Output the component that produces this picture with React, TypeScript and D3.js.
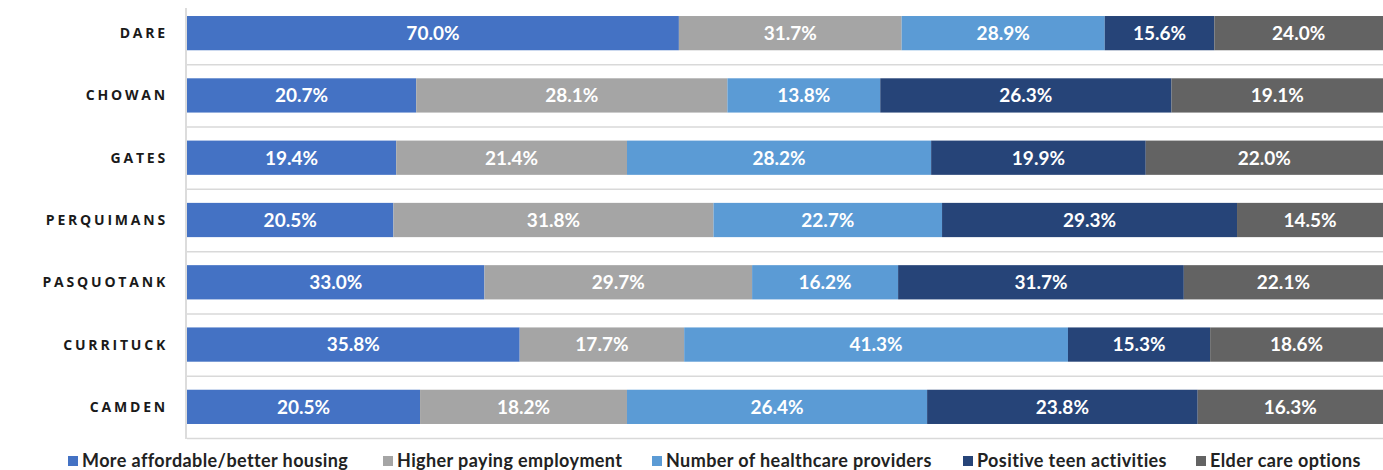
import React, { useEffect, useRef } from "react";
import * as d3 from "d3";

const counties = ["DARE", "CHOWAN", "GATES", "PERQUIMANS", "PASQUOTANK", "CURRITUCK", "CAMDEN"];
const seriesNames = [
  "More affordable/better housing",
  "Higher paying employment",
  "Number of healthcare providers",
  "Positive teen activities",
  "Elder care options",
];
const housing = [70.0, 20.7, 19.4, 20.5, 33.0, 35.8, 20.5];
const employment = [31.7, 28.1, 21.4, 31.8, 29.7, 17.7, 18.2];
const healthcare = [28.9, 13.8, 28.2, 22.7, 16.2, 41.3, 26.4];
const teen = [15.6, 26.3, 19.9, 29.3, 31.7, 15.3, 23.8];
const elder = [24.0, 19.1, 22.0, 14.5, 22.1, 18.6, 16.3];
const colors = ["#4472C4", "#A5A5A5", "#5B9BD5", "#264478", "#636363"];

const legendX = [68, 383, 652, 963, 1196];

const App: React.FC = () => {
  const svgRef = useRef<SVGSVGElement | null>(null);

  useEffect(() => {
    if (!svgRef.current) return;
    const svg = d3.select(svgRef.current);
    svg.selectAll("*").remove();

    const width = 1383;
    const left = 187;
    const top = 2;
    const bottom = 438;

    const allSeries = [housing, employment, healthcare, teen, elder];
    const rows = counties.map((c, i) => {
      const row: any = { county: c };
      seriesNames.forEach((s, j) => (row[s] = allSeries[j][i]));
      return row;
    });

    const stacked = d3.stack<any>()
      .keys(seriesNames)
      .offset(d3.stackOffsetExpand)(rows);

    const x = d3.scaleLinear().domain([0, 1]).range([left, width]);
    const y = d3.scaleBand<string>()
      .domain(counties)
      .range([top, bottom])
      .paddingInner(0.45)
      .paddingOuter(0.225);

    const step = y.step();

    // gridlines between categories
    svg.append("g")
      .selectAll("line")
      .data(d3.range(1, counties.length + 1))
      .enter()
      .append("line")
      .attr("x1", left)
      .attr("x2", width)
      .attr("y1", d => top + d * step + 0.5)
      .attr("y2", d => top + d * step + 0.5)
      .attr("stroke", "#d9d9d9")
      .attr("stroke-width", 1.5);

    // left axis
    svg.append("line")
      .attr("x1", left - 1)
      .attr("x2", left - 1)
      .attr("y1", top + 6)
      .attr("y2", bottom + 1)
      .attr("stroke", "#d0d0d0")
      .attr("stroke-width", 1.5);

    const groups = svg.append("g")
      .selectAll("g")
      .data(stacked)
      .enter()
      .append("g")
      .attr("fill", (d, i) => colors[i]);

    groups.selectAll("rect")
      .data(d => d)
      .enter()
      .append("rect")
      .attr("x", d => x(d[0]))
      .attr("y", d => y(d.data.county)!)
      .attr("width", d => x(d[1]) - x(d[0]))
      .attr("height", y.bandwidth());

    groups.each(function (s) {
      d3.select(this)
        .selectAll("text")
        .data(s)
        .enter()
        .append("text")
        .attr("x", d => (x(d[0]) + x(d[1])) / 2)
        .attr("y", d => y(d.data.county)! + y.bandwidth() / 2)
        .attr("dy", "0.36em")
        .attr("text-anchor", "middle")
        .attr("fill", "#ffffff")
        .style("font-family", "Lato, 'Open Sans', sans-serif")
        .style("font-weight", "bold")
        .style("font-size", "19px")
        .text(d => (d.data[s.key] as number).toFixed(1) + "%");
    });

    // category labels
    svg.append("g")
      .selectAll("text")
      .data(counties)
      .enter()
      .append("text")
      .attr("x", 168)
      .attr("y", d => y(d)! + y.bandwidth() / 2)
      .attr("dy", "0.36em")
      .attr("text-anchor", "end")
      .attr("fill", "#1a1a1a")
      .style("font-family", "'Open Sans', Lato, sans-serif")
      .style("font-weight", "bold")
      .style("font-size", "14px")
      .style("letter-spacing", "2.8px")
      .text(d => d);

    // legend
    const legend = svg.append("g")
      .selectAll("g")
      .data(seriesNames)
      .enter()
      .append("g")
      .attr("transform", (d, i) => `translate(${legendX[i]},461)`);

    legend.append("rect")
      .attr("x", 0)
      .attr("y", -5)
      .attr("width", 10)
      .attr("height", 10)
      .attr("fill", (d, i) => colors[i]);

    legend.append("text")
      .attr("x", 14)
      .attr("y", 0)
      .attr("dy", "0.36em")
      .attr("fill", "#222")
      .style("font-family", "Lato, 'Open Sans', sans-serif")
      .style("font-weight", "bold")
      .style("font-size", "18px")
      .style("letter-spacing", "0.4px")
      .text(d => d);
  }, []);

  return (
    <svg
      ref={svgRef}
      width={1383}
      height={470}
      style={{ position: "absolute", left: 0, top: 0, background: "#fff" }}
    ></svg>
  );
};

export default App;
